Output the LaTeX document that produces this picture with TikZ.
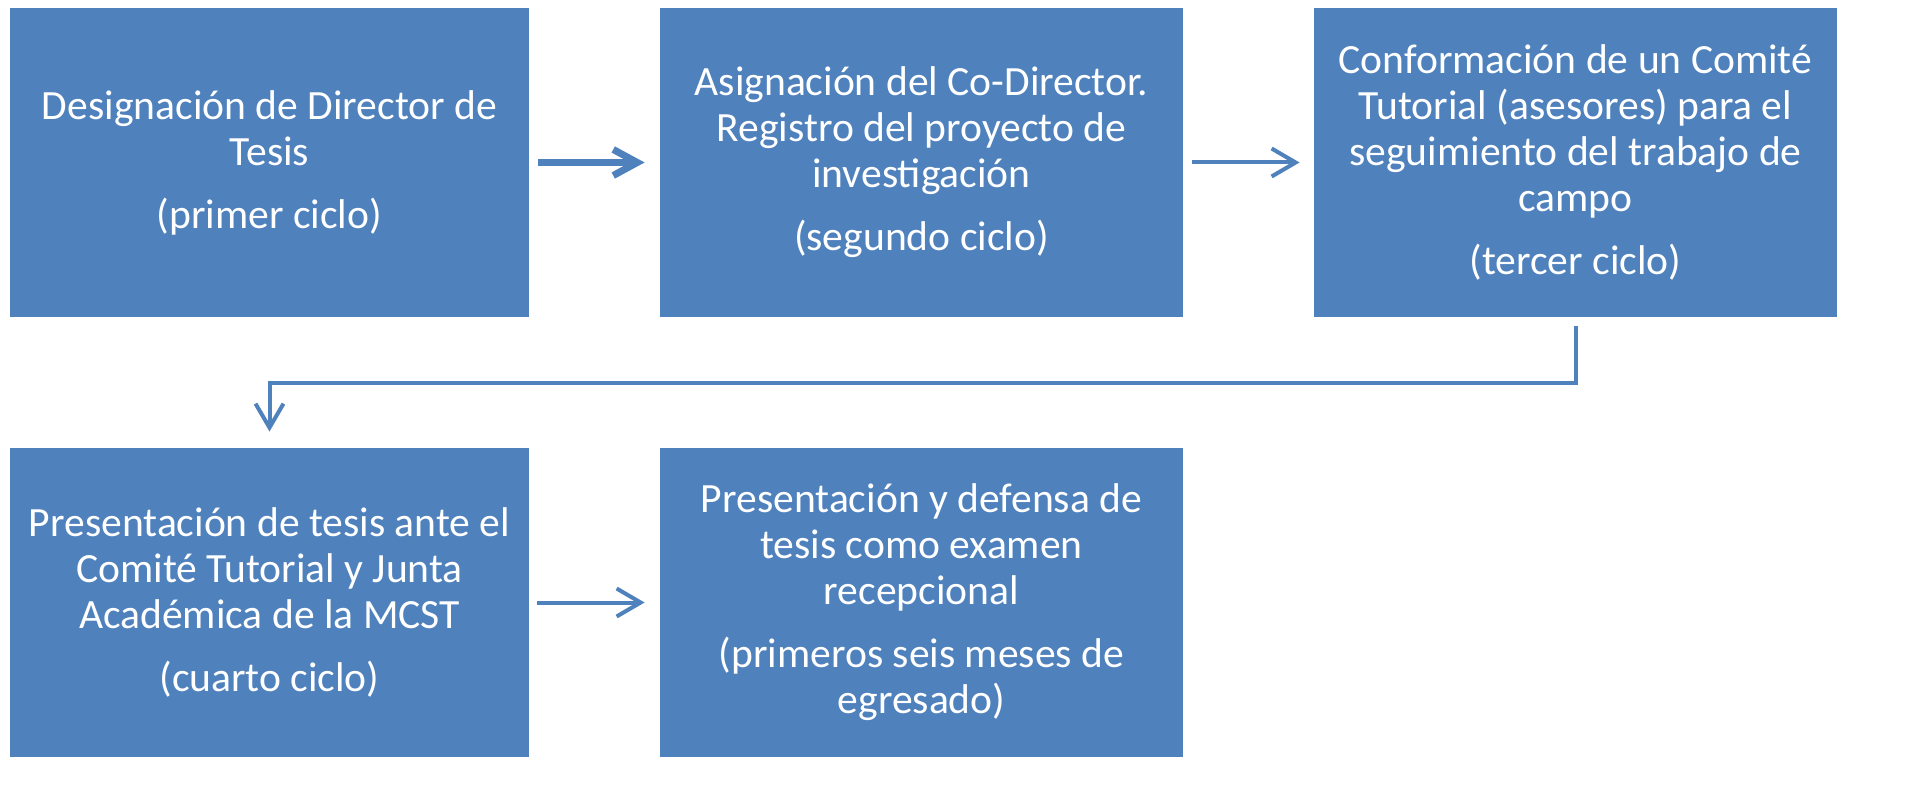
\documentclass[tikz,border=0pt]{standalone}
\usepackage{fontspec}
\setmainfont{Carlito}
\usetikzlibrary{arrows.meta,calc}
\definecolor{boxblue}{HTML}{4F81BD}
\begin{document}
\begin{tikzpicture}[x=0.5pt,y=-0.5pt,
  stepbox/.style={fill=boxblue, draw=none, text=white, minimum width=261.5pt,
    minimum height=154.5pt, inner sep=0pt, align=center,
    font=\fontsize{20.8}{23}\selectfont},
  flow/.style={draw=boxblue, line width=2pt, -{Straight Barb[length=12pt,width=14pt]}},
  thickflow/.style={draw=boxblue, line width=3.5pt, -{Straight Barb[length=12pt,width=13pt]}}]
\useasboundingbox (0,0) rectangle (1919,792);
\node[stepbox, minimum width=259.5pt] (b1) at (269.5,162.5)
  {Designación de Director de\\ Tesis\\[8.5pt] (primer ciclo)};
\node[stepbox] (b2) at (921.5,162.5)
  {Asignación del Co-Director.\\ Registro del proyecto de\\ investigación\\[8.5pt] (segundo ciclo)};
\node[stepbox] (b3) at (1575.5,162.5)
  {Conformación de un Comité\\ Tutorial (asesores) para el\\ seguimiento del trabajo de\\ campo\\[8.5pt] (tercer ciclo)};
\node[stepbox, minimum width=259.5pt] (b4) at (269.5,602.5)
  {Presentación de tesis ante el\\ Comité Tutorial y Junta\\ Académica de la MCST\\[8.5pt] (cuarto ciclo)};
\node[stepbox] (b5) at (921.5,602.5)
  {Presentación y defensa de\\ tesis como examen\\ recepcional\\[8.5pt] (primeros seis meses de\\ egresado)};
\draw[thickflow] ($(b1.east)+(9,0)$) -- ($(b2.west)+(-15,0)$);
\draw[flow] ($(b2.east)+(9,0)$) -- ($(b3.west)+(-14,0)$);
\draw[flow] ($(b3.south)+(0,9)$) |- ($(b4.north)+(0,-65)$) -- ($(b4.north)+(0,-16)$);
\draw[flow] ($(b4.east)+(8,0)$) -- ($(b5.west)+(-15,0)$);
\end{tikzpicture}
\end{document}
